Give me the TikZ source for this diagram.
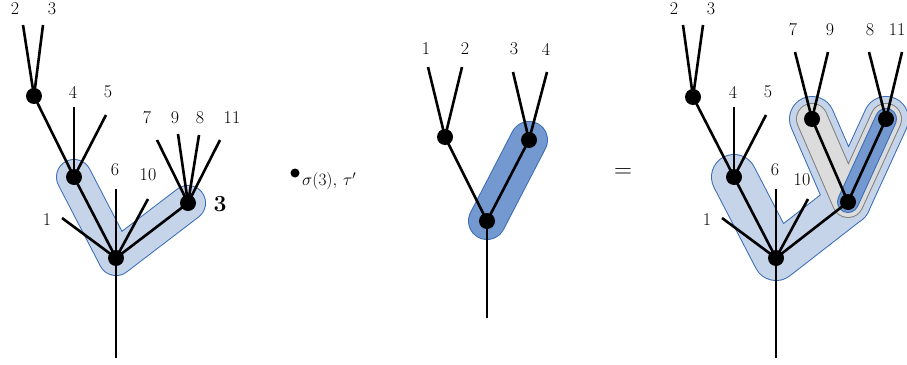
\documentclass[tikz,border=0pt]{standalone}
\usepackage{amsmath}
\definecolor{bandedge}{HTML}{3A6DB5}
\definecolor{lightband}{HTML}{C6D4EA}
\definecolor{darkband}{HTML}{7399D0}
\definecolor{greyband}{HTML}{DCDCDC}
\definecolor{greyedge}{HTML}{808080}
\tikzset{
  edge/.style={line width=2.6pt, black},
  vtx/.style={circle, fill=black, inner sep=0pt, minimum size=16pt},
  lbl/.style={font=\fontsize{18}{21}\selectfont, inner sep=0pt},
  rnd/.style={line cap=round, line join=round},
}
\begin{document}
\begin{tikzpicture}[x=1pt,y=-1pt]
\useasboundingbox (0,0) rectangle (907,364);

% ================= LEFT TREE =================
\coordinate (Lr) at (116,258);
\coordinate (La) at (74,177);
\coordinate (Lb) at (34,96);
\coordinate (Lc) at (188,203);
% band
\draw[rnd, draw=bandedge, line width=36pt] (La)--(Lr)--(Lc);
\draw[rnd, draw=lightband, line width=34pt] (La)--(Lr)--(Lc);
% leaf ends
\coordinate (Lroot) at (116,358);
\coordinate (L1) at (62,218);
\coordinate (L6) at (116,189);
\coordinate (L10) at (148,199);
\coordinate (L4) at (74,107);
\coordinate (L5) at (106,115);
\coordinate (L2) at (23,25);
\coordinate (L3) at (43,25);
\coordinate (L7) at (157,140);
\coordinate (L9) at (178,134);
\coordinate (L8) at (199,135);
\coordinate (L11) at (220,140);
\draw[edge] (Lroot)--(Lr);
\draw[edge] (Lr)--(L1);
\draw[edge] (Lr)--(L6);
\draw[edge] (Lr)--(L10);
\draw[edge] (Lr)--(La);
\draw[edge] (Lr)--(Lc);
\draw[edge] (La)--(Lb);
\draw[edge] (La)--(L4);
\draw[edge] (La)--(L5);
\draw[edge] (Lb)--(L2);
\draw[edge] (Lb)--(L3);
\draw[edge] (Lc)--(L7);
\draw[edge] (Lc)--(L9);
\draw[edge] (Lc)--(L8);
\draw[edge] (Lc)--(L11);
\node[vtx] (Lrv) at (Lr) {};
\node[vtx] (Lav) at (La) {};
\node[vtx] (Lbv) at (Lb) {};
\node[vtx] (Lcv) at (Lc) {};
\node[lbl] (tL1) at (47,220) {1};
\node[lbl] (tL6) at (115,170) {6};
\node[lbl] (tL10) at (148,175) {10};
\node[lbl] (tL4) at (73,92) {4};
\node[lbl] (tL5) at (108,92) {5};
\node[lbl] (tL2) at (15,9) {2};
\node[lbl] (tL3) at (52,9) {3};
\node[lbl] (tL7) at (147,118) {7};
\node[lbl] (tL9) at (175,118) {9};
\node[lbl] (tL8) at (200,118) {8};
\node[lbl] (tL11) at (232,118) {11};
\node[font=\fontsize{23}{26}\selectfont\bfseries, inner sep=0pt] (tLbold) at (220,204) {3};

% ================= MIDDLE TEXT =================
\node[circle, fill=black, inner sep=0pt, minimum size=9pt] (bul) at (295,173) {};
\node[font=\fontsize{18}{21}\selectfont, anchor=west, inner sep=0pt] (sub) at (302,181) {$\sigma(3),\,\tau'$};

% ================= MIDDLE TREE =================
\coordinate (Mr) at (487,221);
\coordinate (Ml) at (445,137);
\coordinate (Mg) at (529,140);
\draw[rnd, draw=bandedge, line width=38pt] (Mr)--(Mg);
\draw[rnd, draw=darkband, line width=36pt] (Mr)--(Mg);
\coordinate (Mroot) at (487,318);
\coordinate (M1) at (428,67);
\coordinate (M2) at (462,67);
\coordinate (M3) at (513,72);
\coordinate (M4) at (547,72);
\draw[edge] (Mroot)--(Mr);
\draw[edge] (Mr)--(Ml);
\draw[edge] (Mr)--(Mg);
\draw[edge] (Ml)--(M1);
\draw[edge] (Ml)--(M2);
\draw[edge] (Mg)--(M3);
\draw[edge] (Mg)--(M4);
\node[vtx] (Mrv) at (Mr) {};
\node[vtx] (Mlv) at (Ml) {};
\node[vtx] (Mgv) at (Mg) {};
\node[lbl] (tM1) at (426,49) {1};
\node[lbl] (tM2) at (465,49) {2};
\node[lbl] (tM3) at (514,49) {3};
\node[lbl] (tM4) at (546,49) {4};

% equals
\node[font=\fontsize{23}{26}\selectfont, inner sep=0pt] (eq) at (623,173) {$=$};

% ================= RIGHT TREE =================
\coordinate (Rr) at (776,258);
\coordinate (Ra) at (734,177);
\coordinate (Rb) at (693,97);
\coordinate (Rc) at (848,202);
\coordinate (Rd) at (812,119);
\coordinate (Re) at (886,119);
% outer light band (union)
\draw[rnd, draw=bandedge, line width=46pt] (Ra)--(Rr)--(Rc);
\draw[rnd, draw=bandedge, line width=46pt] (Rd)--(Rc)--(Re);
\draw[rnd, draw=lightband, line width=44pt] (Ra)--(Rr)--(Rc);
\draw[rnd, draw=lightband, line width=44pt] (Rd)--(Rc)--(Re);
% grey band
\draw[rnd, draw=greyedge, line width=32pt] (Rd)--(Rc)--(Re);
\draw[rnd, draw=greyband, line width=30pt] (Rd)--(Rc)--(Re);
% dark band
\draw[rnd, draw=bandedge, line width=22pt] (Rc)--(Re);
\draw[rnd, draw=darkband, line width=20pt] (Rc)--(Re);
% leaf ends
\coordinate (Rroot) at (776,358);
\coordinate (R1) at (722,218);
\coordinate (R6) at (776,189);
\coordinate (R10) at (808,199);
\coordinate (R4) at (734,107);
\coordinate (R5) at (766,115);
\coordinate (R2) at (683,25);
\coordinate (R3) at (703,25);
\coordinate (R7) at (795,52);
\coordinate (R9) at (828,52);
\coordinate (R8) at (869,52);
\coordinate (R11) at (902,52);
\draw[edge] (Rroot)--(Rr);
\draw[edge] (Rr)--(R1);
\draw[edge] (Rr)--(R6);
\draw[edge] (Rr)--(R10);
\draw[edge] (Rr)--(Ra);
\draw[edge] (Rr)--(Rc);
\draw[edge] (Ra)--(Rb);
\draw[edge] (Ra)--(R4);
\draw[edge] (Ra)--(R5);
\draw[edge] (Rb)--(R2);
\draw[edge] (Rb)--(R3);
\draw[edge] (Rc)--(Rd);
\draw[edge] (Rc)--(Re);
\draw[edge] (Rd)--(R7);
\draw[edge] (Rd)--(R9);
\draw[edge] (Re)--(R8);
\draw[edge] (Re)--(R11);
\node[vtx] (Rrv) at (Rr) {};
\node[vtx] (Rav) at (Ra) {};
\node[vtx] (Rbv) at (Rb) {};
\node[vtx] (Rcv) at (Rc) {};
\node[vtx] (Rdv) at (Rd) {};
\node[vtx] (Rev) at (Re) {};
\node[lbl] (tR1) at (707,220) {1};
\node[lbl] (tR6) at (775,170) {6};
\node[lbl] (tR10) at (802,180) {10};
\node[lbl] (tR4) at (733,92) {4};
\node[lbl] (tR5) at (768,92) {5};
\node[lbl] (tR2) at (674,9) {2};
\node[lbl] (tR3) at (711,9) {3};
\node[lbl] (tR7) at (793,30) {7};
\node[lbl] (tR9) at (830,30) {9};
\node[lbl] (tR8) at (870,30) {8};
\node[lbl] (tR11) at (897,30) {11};
\end{tikzpicture}
\end{document}
